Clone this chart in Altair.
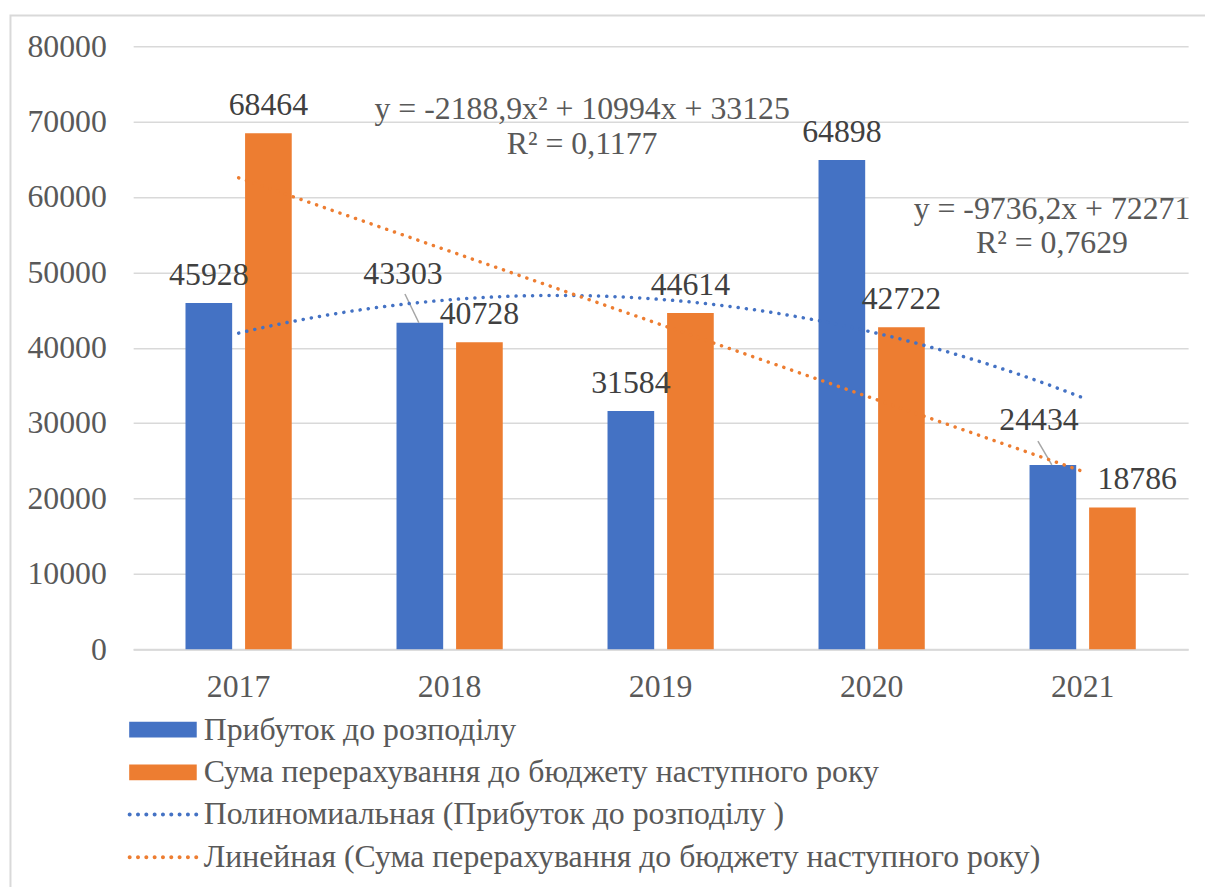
import altair as alt
import pandas as pd

# ---- data ----
years = ["2017", "2018", "2019", "2020", "2021"]
profit = [45928, 43303, 31584, 64898, 24434]
transfer = [68464, 40728, 44614, 42722, 18786]
series_names = ["Прибуток до розподілу",
                "Сума перерахування до бюджету наступного року"]
trend_names = ["Полиномиальная (Прибуток до розподілу )",
               "Линейная (Сума перерахування до бюджету наступного року)"]
eq_poly = ["y = -2188,9x² + 10994x + 33125", "R² = 0,1177"]
eq_lin = ["y = -9736,2x + 72271", "R² = 0,7629"]
y_ticks = [0, 10000, 20000, 30000, 40000, 50000, 60000, 70000, 80000]

rows = []
for i, yr in enumerate(years):
    rows.append(dict(year=yr, idx=i + 1, s=0, series=series_names[0],
                     trend=trend_names[0], value=profit[i]))
    rows.append(dict(year=yr, idx=i + 1, s=1, series=series_names[1],
                     trend=trend_names[1], value=transfer[i]))
df = pd.DataFrame(rows)

FONT = "Liberation Serif"
BLUE = "#4472C4"
ORANGE = "#ED7D31"
W, H = 1062, 607

base = alt.Chart(df)

xband = alt.Scale(domain=years, paddingInner=0.4965, paddingOuter=0.248)
xoff = alt.Scale(domain=series_names, paddingInner=0.2167, paddingOuter=0)
yscale = alt.Scale(domain=[0, 80000], nice=False)

X_AXIS = alt.Axis(title=None, labelAngle=0, labelFont=FONT,
                  labelFontSize=32, labelColor="#595959",
                  labelPadding=23, ticks=False, tickSize=0,
                  domainColor="#d9d9d9", domainWidth=2, grid=False)
Y_AXIS = alt.Axis(title=None, values=y_ticks, format="d", labelFont=FONT,
                  labelFontSize=32, labelColor="#595959", labelPadding=27,
                  ticks=False, tickSize=0, domain=False, grid=True,
                  gridColor="#d9d9d9", gridWidth=1.5)

X_band = alt.X("year:N", scale=xband, sort=years, axis=X_AXIS)
XO = alt.XOffset("series:N", scale=xoff, sort=series_names)
Y = alt.Y("value:Q", scale=yscale, axis=Y_AXIS)

# legend symbols drawn in pixel units (symbolSize 4 -> unit radius 1)
RECT_PATH = "M-34,-8H34V8H-34Z"
DOT_PATH = ""
for k in range(9):
    cx = -33.5 + k * 8.375
    DOT_PATH += f"M{cx - 2:.3f},0a2,2 0 1,0 4,0a2,2 0 1,0 -4,0Z"

LEG_COMMON = dict(title=None, orient="none", direction="vertical",
                  symbolSize=4, symbolStrokeWidth=0, symbolOpacity=1,
                  labelFont=FONT, labelFontSize=32, labelColor="#595959",
                  labelOffset=25, rowPadding=11, padding=0, labelLimit=1200)

bars = base.mark_bar().encode(
    x=X_band,
    xOffset=XO,
    y=Y,
    color=alt.Color("series:N",
                    scale=alt.Scale(domain=series_names, range=[BLUE, ORANGE]),
                    legend=alt.Legend(legendX=14, legendY=672,
                                      symbolType=RECT_PATH, **LEG_COMMON)),
)


def value_labels(expr, dx, dy):
    return base.transform_filter(expr).mark_text(
        font=FONT, fontSize=32, color="#404040", baseline="alphabetic",
        align="center", dx=dx, dy=dy
    ).encode(x=X_band, xOffset=XO, y=Y,
             text=alt.Text("value:Q", format="d"))


special = ("(datum.s==0 && datum.year=='2018') || "
           "(datum.s==0 && datum.year=='2021') || "
           "(datum.s==1 && datum.year=='2021')")
lbl_main = value_labels(f"!({special})", 0, -18)
lbl_a = value_labels("datum.s==0 && datum.year=='2018'", -17, -39)
lbl_b = value_labels("datum.s==0 && datum.year=='2021'", -14, -35)
lbl_c = value_labels("datum.s==1 && datum.year=='2021'", 25, -19)

bar_group = alt.layer(bars, lbl_main, lbl_a, lbl_b, lbl_c)

# ---- trend lines (regression computed by Vega-Lite from the data) ----
xq = alt.Scale(domain=[0.5, 5.5], nice=False, zero=False)
X_q = alt.X("idx:Q", scale=xq, axis=None)
trend_scale = alt.Scale(domain=trend_names, range=[BLUE, ORANGE])

poly = base.transform_filter("datum.s==0").transform_regression(
    "idx", "value", method="poly", order=2, extent=[1, 5]
).mark_line(color=BLUE, strokeWidth=3.5, strokeCap="round",
            strokeDash=[0.1, 8.2]).encode(x=X_q, y=Y)

lin = base.transform_filter("datum.s==1").transform_regression(
    "idx", "value", method="linear", extent=[1, 5]
).mark_line(color=ORANGE, strokeWidth=3.5, strokeCap="round",
            strokeDash=[0.1, 8.2]).encode(x=X_q, y=Y)

# legend carrier for the trend lines (zero-size points, dotted legend symbol)
trend_legend = base.mark_point(filled=True, size=0, strokeWidth=0,
                               opacity=1).encode(
    x=X_q, y=Y,
    fill=alt.Fill("trend:N", scale=trend_scale,
                  legend=alt.Legend(legendX=14, legendY=757.5,
                                    symbolType=DOT_PATH, **LEG_COMMON)))

lead_a = base.transform_filter("datum.s==0 && datum.year=='2018'").mark_rule(
    color="#a6a6a6", strokeWidth=1.5, xOffset=-31, x2Offset=-45, y2Offset=-29
).encode(x=X_q, x2="idx:Q", y=Y, y2="value:Q")
lead_b = base.transform_filter("datum.s==0 && datum.year=='2021'").mark_rule(
    color="#a6a6a6", strokeWidth=1.5, xOffset=-31, x2Offset=-45, y2Offset=-24
).encode(x=X_q, x2="idx:Q", y=Y, y2="value:Q")

trend_group = alt.layer(lead_a, lead_b, poly, lin, trend_legend)


def eq_text(txt, px, py):
    return alt.Chart(pd.DataFrame({"t": [txt]})).mark_text(
        font=FONT, fontSize=32, color="#595959", align="center",
        baseline="alphabetic"
    ).encode(text="t:N", x=alt.value(px), y=alt.value(py))


eqs = alt.layer(
    eq_text(eq_poly[0], 452, 73.5),
    eq_text(eq_poly[1], 452, 108.5),
    eq_text(eq_lin[0], 925, 173.5),
    eq_text(eq_lin[1], 925, 208.5),
)

# light grey chart-area frame (Excel chart border)
frame = alt.Chart(pd.DataFrame({"f": [0]})).mark_rect(
    fill=None, stroke="#d9d9d9", strokeWidth=2
).encode(x=alt.value(-123.5), x2=alt.value(1110), y=alt.value(-31),
         y2=alt.value(880))

chart = alt.layer(frame, bar_group, trend_group, eqs).resolve_scale(
    x="independent"
).properties(
    width=W, height=H,
    autosize=alt.AutoSizeParams(type="none"),
    padding={"left": 126, "top": 35.5, "right": 17, "bottom": 236},
    background="white",
).configure(font=FONT).configure_view(stroke=None).configure_text(font=FONT)

chart.save("out.html", embed_options={"renderer": "svg", "actions": False})
